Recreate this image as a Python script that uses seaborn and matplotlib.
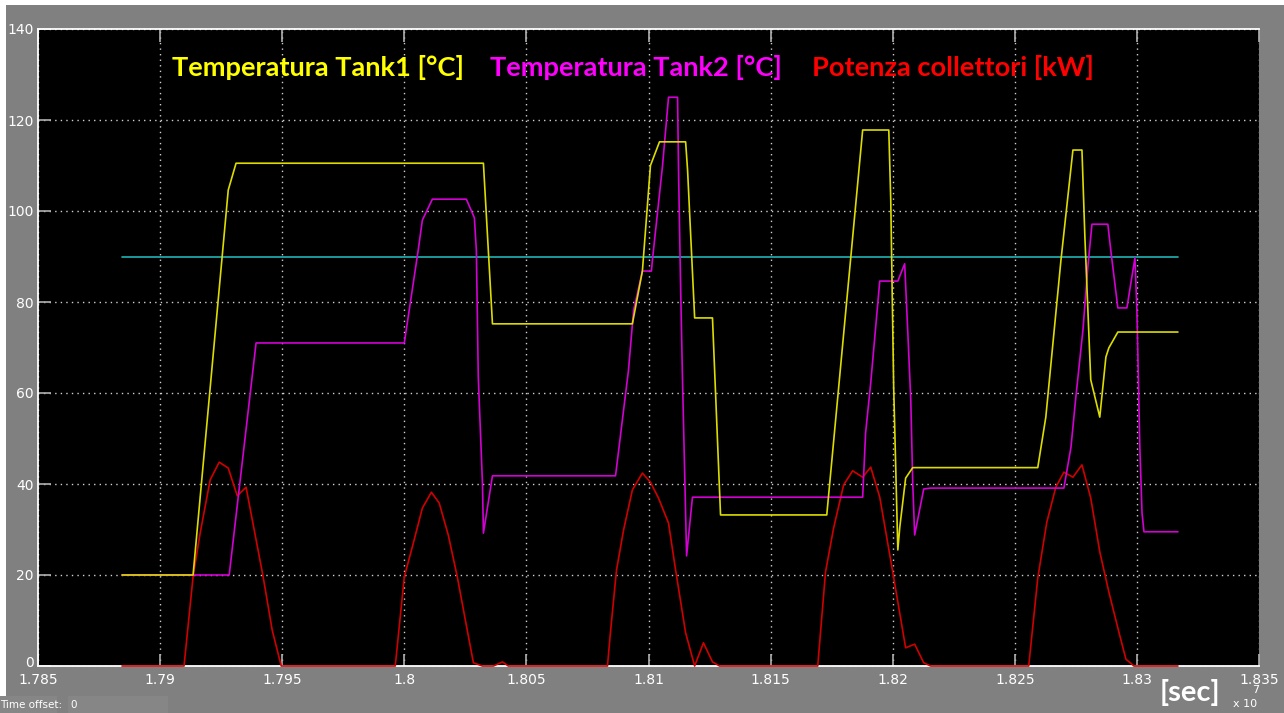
import matplotlib
matplotlib.use("Agg")
import matplotlib.pyplot as plt
import matplotlib.patches as mpatches
import matplotlib.transforms as mtransforms
import seaborn as sns
import pandas as pd

# ---- data (time in units of 1e7 s) ----
t_tank1 = [1.78844, 1.79135, 1.79279, 1.79311, 1.80324, 1.80361, 1.80934, 1.80975,
           1.81008, 1.81045, 1.81152, 1.81160, 1.81189, 1.81262, 1.81295, 1.81730,
           1.81877, 1.81984, 1.81992, 1.82004, 1.82021, 1.82029, 1.82053, 1.82082,
           1.82594, 1.82627, 1.82689, 1.82738, 1.82775, 1.82787, 1.82811, 1.82848,
           1.82873, 1.82885, 1.82922, 1.83168]
v_tank1 = [20, 20, 104.6, 110.5, 110.5, 75.2, 75.2, 86.8,
           110, 115.2, 115.2, 109, 76.5, 76.5, 33.2, 33.2,
           117.8, 117.8, 102.4, 61.3, 25.5, 30.5, 41.3, 43.6,
           43.6, 54.7, 89.2, 113.4, 113.4, 94.3, 62.9, 54.7,
           67.9, 69.9, 73.4, 73.4]

t_tank2 = [1.78844, 1.79283, 1.79393, 1.80000, 1.80057, 1.80074, 1.80115, 1.80254,
           1.80287, 1.80295, 1.80303, 1.80320, 1.80324, 1.80361, 1.80865, 1.80918,
           1.80939, 1.80975, 1.81012, 1.81016, 1.81057, 1.81082, 1.81119, 1.81123,
           1.81131, 1.81139, 1.81156, 1.81180, 1.81877, 1.81889, 1.81910, 1.81947,
           1.82021, 1.82049, 1.82062, 1.82074, 1.82082, 1.82090, 1.82127, 1.82156,
           1.82701, 1.82730, 1.82750, 1.82779, 1.82799, 1.82816, 1.82881, 1.82893,
           1.82922, 1.82959, 1.82992, 1.83000, 1.83012, 1.83021, 1.83029, 1.83168]
v_tank2 = [20, 20, 71, 71, 91.4, 98, 102.6, 102.6,
           98.5, 91.4, 63.5, 40.2, 29.2, 41.8, 41.8, 65,
           78.2, 86.8, 86.8, 89.2, 109.7, 125, 125, 109,
           84.8, 63.5, 24.2, 37.1, 37.1, 51.2, 62.2, 84.6,
           84.6, 88.4, 73.2, 58.5, 40.2, 28.8, 38.9, 39.1,
           39.1, 48.1, 59.1, 73.8, 87.7, 97.1, 97.1, 91.4,
           78.7, 78.7, 89.7, 78.2, 48.1, 33.6, 29.5, 29.5]

t_power = [1.78844, 1.79098, 1.79135, 1.79164, 1.79205, 1.79242, 1.79279, 1.79316,
           1.79352, 1.79422, 1.79459, 1.79496, 1.79963, 1.80000, 1.80033, 1.80074,
           1.80111, 1.80143, 1.80180, 1.80217, 1.80250, 1.80283, 1.80320, 1.80365,
           1.80402, 1.80426, 1.80832, 1.80844, 1.80869, 1.80898, 1.80934, 1.80975,
           1.81008, 1.81041, 1.81082, 1.81111, 1.81152, 1.81189, 1.81225, 1.81262,
           1.81291, 1.81693, 1.81725, 1.81758, 1.81799, 1.81836, 1.81877, 1.81910,
           1.81947, 1.82000, 1.82053, 1.82090, 1.82127, 1.82156, 1.82557, 1.82594,
           1.82631, 1.82668, 1.82701, 1.82738, 1.82775, 1.82811, 1.82848, 1.82885,
           1.82926, 1.82955, 1.82988, 1.83168]
v_power = [0, 0, 19.6, 29.2, 40.9, 44.8, 43.5, 37.4,
           39.3, 19.6, 7.9, 0, 0, 19.6, 26.2, 34.7,
           38.2, 35.8, 28.8, 19.6, 10.1, 0.7, 0, 0,
           0.9, 0, 0, 7.3, 21.1, 29.9, 38.7, 42.4,
           40.4, 36.9, 31.4, 21.1, 7.3, 0, 5.1, 0.9,
           0, 0, 20.7, 30.3, 39.8, 42.9, 41.5, 43.7,
           37.1, 20.7, 4.0, 4.8, 0.7, 0, 0, 19.3,
           31.6, 39.3, 42.6, 41.5, 44.2, 36.9, 25.1, 16.3,
           7.5, 1.5, 0, 0]

t_setpoint = [1.78844, 1.83168]
v_setpoint = [90, 90]

series_names = ["Temperatura Tank1 [°C]", "Temperatura Tank2 [°C]", "Potenza collettori [kW]"]
x_ticks = [1.785, 1.79, 1.795, 1.8, 1.805, 1.81, 1.815, 1.82, 1.825, 1.83, 1.835]
x_tick_labels = ["1.785", "1.79", "1.795", "1.8", "1.805", "1.81", "1.815", "1.82", "1.825", "1.83", "1.835"]
y_ticks = [0, 20, 40, 60, 80, 100, 120, 140]

# ---- figure ----
sns.set_style("dark")
plt.rcParams['font.family'] = ['DejaVu Sans']

GRAY = "#808080"
fig = plt.figure(figsize=(12.84, 7.13), dpi=100, facecolor=GRAY)
# white strips (top and left) as in the screenshot
fig.patches.append(mpatches.Rectangle((0, 1 - 5 / 713), 1, 5 / 713, transform=fig.transFigure,
                                      facecolor="white", edgecolor="none", zorder=0))
fig.patches.append(mpatches.Rectangle((0, 17 / 713), 6 / 1284, 1, transform=fig.transFigure,
                                      facecolor="white", edgecolor="none", zorder=0))
# "Time offset" boxes
fig.patches.append(mpatches.Rectangle((0, 0), 57 / 1284, 17 / 713, transform=fig.transFigure,
                                      facecolor="#868686", edgecolor="none"))
fig.patches.append(mpatches.Rectangle((68 / 1284, 0), 100 / 1284, 17 / 713, transform=fig.transFigure,
                                      facecolor="#868686", edgecolor="none"))
fig.text(0 / 1284, 8 / 713, "Time offset:", color="white", fontsize=7.5, va="center", ha="left")
fig.text(70 / 1284, 8 / 713, "0", color="white", fontsize=7.5, va="center", ha="left")

ax = fig.add_axes([38 / 1284, 1 - 666 / 713, 1221 / 1284, 637 / 713])
ax.set_facecolor("black")

df1 = pd.DataFrame({"t": t_tank1, "v": v_tank1})
df2 = pd.DataFrame({"t": t_tank2, "v": v_tank2})
df3 = pd.DataFrame({"t": t_power, "v": v_power})
df4 = pd.DataFrame({"t": t_setpoint, "v": v_setpoint})

line_kw = dict(ax=ax, lw=1.2, estimator=None, sort=False, zorder=3, clip_on=False)
sns.lineplot(data=df4, x="t", y="v", color="#20b4b4", **line_kw)
sns.lineplot(data=df3, x="t", y="v", color="#d00000", **line_kw)
sns.lineplot(data=df2, x="t", y="v", color="#d400d4", **line_kw)
sns.lineplot(data=df1, x="t", y="v", color="#dcdc00", **line_kw)

ax.set_xlim(1.785, 1.835)
ax.set_ylim(0, 140)
ax.set_xticks(x_ticks)
ax.set_xticklabels(x_tick_labels)
ax.set_yticks(y_ticks)
ax.set_xlabel("")
ax.set_ylabel("")

ax.grid(True, color="#d0d0d0", linestyle=(0, (1, 3)), linewidth=1.0)
ax.tick_params(axis="both", which="both", direction="in", length=9, width=1.2,
               color="#b0b0b0", labelcolor="white", labelsize=10, top=True, bottom=True,
               left=True, right=False)
ax.tick_params(axis="x", pad=5)
ax.tick_params(axis="y", pad=3)
for s in ["left", "top", "bottom"]:
    ax.spines[s].set_visible(True)
    ax.spines[s].set_color("white")
    ax.spines[s].set_linewidth(1.3)
    ax.spines[s].set_zorder(2.5)
ax.spines["right"].set_visible(False)

# nudge the "0" y label up slightly so it sits above the x tick label
lbl0 = ax.get_yticklabels()[0]
lbl0.set_transform(lbl0.get_transform() + mtransforms.ScaledTranslation(0, 3 / 72, fig.dpi_scale_trans))

# coloured legend-like titles
title_kw = dict(transform=ax.transAxes, fontsize=19.6, fontweight="bold", family="Lato",
                va="center", ha="left")
ax.text((172 - 38) / 1221, (666 - 68) / 637, series_names[0], color="#ffff00", **title_kw)
ax.text((490 - 38) / 1221, (666 - 68) / 637, series_names[1], color="#ff00ff", **title_kw)
ax.text((812 - 38) / 1221, (666 - 68) / 637, series_names[2], color="#ff0000", **title_kw)

fig.text(1160 / 1284, 1 - 692 / 713, "[sec]", color="white", fontsize=21, fontweight="bold",
         family="Lato", va="center", ha="left")
fig.text(1233 / 1284, 1 - 704 / 713, "x 10", color="white", fontsize=8, va="center", ha="left")
fig.text(1252 / 1284, 1 - 690 / 713, "7", color="white", fontsize=8, va="center", ha="left")

fig.savefig("out.png", dpi=100, facecolor=GRAY)
